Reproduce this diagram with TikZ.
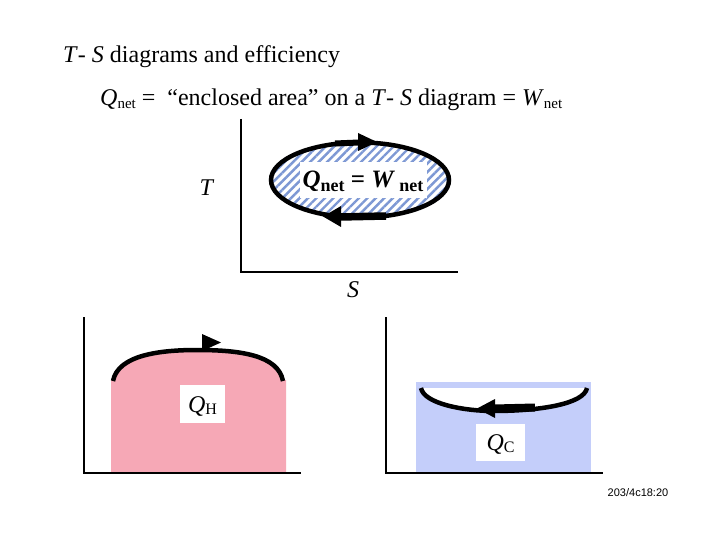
\documentclass[tikz,border=0pt]{standalone}
\usepackage{fontspec}
\setmainfont{Liberation Serif}
\newfontfamily\footfont{Liberation Sans}
\usetikzlibrary{patterns.meta}
\definecolor{pinkfill}{RGB}{246,168,182}
\definecolor{bluefill}{RGB}{196,206,250}
\definecolor{hatchblue}{RGB}{125,152,212}
\newcommand\lowsub[3]{\raisebox{-#2}{\fontsize{#1}{#1}\selectfont #3}}
\tikzset{
  axisline/.style={line width=2pt},
  curveline/.style={line width=4.5pt},
  bigtext/.style={font=\fontsize{24}{28}\selectfont, inner sep=0pt},
  labelbox/.style={fill=white, inner sep=0pt, font=\fontsize{24}{28}\selectfont},
}
\begin{document}
\begin{tikzpicture}[x=1pt,y=-1pt]
\useasboundingbox (0,0) rectangle (720,540);
\fill[white] (0,0) rectangle (720,540);

% title lines
\node[bigtext, anchor=base west] (title) at (63,63) {\textit{T}- \textit{S} diagrams and efficiency};
\node[bigtext, anchor=base west] (line2) at (100,106) {\textit{Q}\lowsub{15}{3pt}{net} = \ “enclosed area” on a \textit{T}- \textit{S} diagram = \textit{W}\lowsub{15}{3pt}{net}};

% ---- top T-S diagram ----
\coordinate (tax) at (241,119);
\coordinate (tor) at (241,272);
\coordinate (tsx) at (458,272);
\draw[axisline] (tax) -- (tor) -- (tsx);
\node[bigtext] (tlab) at (207,188) {\textit{T}};
\node[bigtext] (slab) at (353,290) {\textit{S}};

\coordinate (ec) at (360,180);
\fill[pattern={Lines[angle=45,distance=6pt,line width=2.4pt]}, pattern color=hatchblue]
  (ec) ellipse [x radius=89pt, y radius=37.5pt];
\node[fill=white, minimum width=127pt, minimum height=36pt, inner sep=0pt] (netbox) at (363.5,180) {};
\node[font=\fontsize{25}{28}\selectfont\bfseries, inner sep=0pt] (nettext) at (363,181)
  {\textit{Q}\lowsub{18}{4pt}{net} = \textit{W}\,\lowsub{18}{4pt}{net}};
\draw[curveline] (ec) ellipse [x radius=89pt, y radius=37.5pt];
% arrowheads
\coordinate (ta1) at (358,133);
\coordinate (ta2) at (377,142);
\coordinate (ta3) at (358,151);
\fill (ta1) -- (ta2) -- (ta3) -- cycle;
\draw[line width=6pt] (335,143.5) -- (359,142.5);
\coordinate (ba1) at (341,206);
\coordinate (ba2) at (323,216.5);
\coordinate (ba3) at (341,227);
\fill (ba1) -- (ba2) -- (ba3) -- cycle;
\draw[line width=7.5pt] (340,217) -- (386,216);

% ---- bottom left: Q_H ----
\coordinate (lax) at (84,317);
\coordinate (lor) at (84,473);
\coordinate (lsx) at (301,473);
\fill[pinkfill] (111,472) -- (111,380) -- (113,380)
  .. controls (118,355) and (160,350) .. (197,350)
  .. controls (240,350) and (278,355) .. (283,380)
  -- (286,380) -- (286,472) -- cycle;
\draw[curveline] (113,381)
  .. controls (118,355) and (160,350) .. (197,350)
  .. controls (240,350) and (278,355) .. (283,381);
\coordinate (ha1) at (202,334);
\coordinate (ha2) at (221,342.5);
\coordinate (ha3) at (202,351);
\fill (ha1) -- (ha2) -- (ha3) -- cycle;
\draw[axisline] (lax) -- (lor) -- (lsx);
\node[labelbox, minimum width=45pt, minimum height=38pt] (qhbox) at (202.5,404) {};
\node[bigtext] (qh) at (202.5,406) {\textit{Q}\lowsub{16}{2pt}{H}};

% ---- bottom right: Q_C ----
\coordinate (rax) at (386,317);
\coordinate (ror) at (386,473);
\coordinate (rsx) at (603,473);
\fill[bluefill] (416,382) rectangle (591,472);
\fill[white] (421,388)
  .. controls (424,404) and (465,411) .. (493,411)
  .. controls (540,411) and (584,404) .. (587,388) -- cycle;
\draw[curveline] (421,388)
  .. controls (424,404) and (465,411) .. (493,411)
  .. controls (540,411) and (584,404) .. (587,388);
\coordinate (ca1) at (495,399);
\coordinate (ca2) at (477,408.5);
\coordinate (ca3) at (495,418);
\fill (ca1) -- (ca2) -- (ca3) -- cycle;
\draw[line width=8pt] (494,408.5) -- (535,407.5);
\draw[axisline] (rax) -- (ror) -- (rsx);
\node[labelbox, minimum width=49pt, minimum height=37pt] (qcbox) at (500.5,442) {};
\node[bigtext] (qc) at (500.5,444) {\textit{Q}\lowsub{16}{2pt}{C}};

% footer
\node[font=\footfont\fontsize{11}{12}\selectfont, inner sep=0pt] (foot) at (638,493) {203/4c18:20};
\end{tikzpicture}
\end{document}
